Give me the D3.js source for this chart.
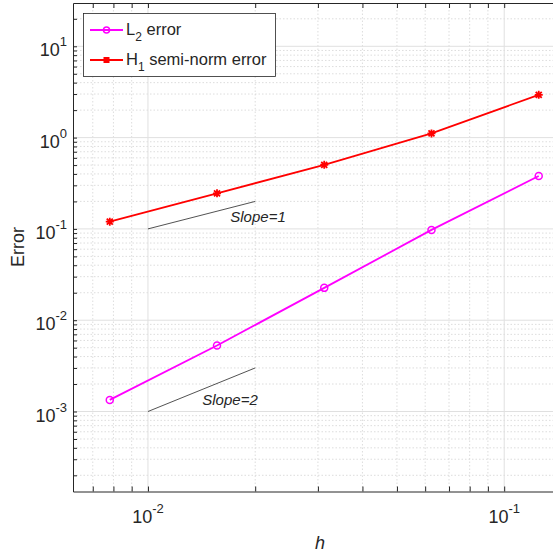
<!DOCTYPE html>
<html>
<head>
<meta charset="utf-8">
<script src="https://d3js.org/d3.v7.min.js"></script>
<style>
  body { margin: 0; background: #fff; }
  text { font-family: "Liberation Sans", Arial, sans-serif; fill: #262626; }
</style>
</head>
<body>
<svg id="vis" width="553" height="553"></svg>
<script>
// data
var hValues = [1/128, 1/64, 1/32, 1/16, 1/8];
var l2Error = [0.00134, 0.00528, 0.0226, 0.0975, 0.379];
var h1Error = [0.120, 0.245, 0.504, 1.11, 2.94];
var slope1X = [0.01, 0.02];
var slope1Y = [0.1, 0.2];
var slope2X = [0.01, 0.02];
var slope2Y = [0.001, 0.003];
var xMajor = [0.01, 0.1];
var yMajor = [1e-3, 1e-2, 1e-1, 1e0, 1e1];
var xDomain = [0.00616, 0.156];
var yDomain = [1.33e-4, 29.8];

var plotL = 73, plotR = 573, plotT = 3, plotB = 491.5;
var axisCol = "#262626";

var svg = d3.select("#vis");
var x = d3.scaleLog().domain(xDomain).range([plotL, plotR]);
var y = d3.scaleLog().domain(yDomain).range([plotB, plotT]);

// minor tick values (2..9 in each decade)
function minors(dom) {
  var out = [];
  for (var e = -5; e <= 2; e++) {
    for (var k = 2; k <= 9; k++) {
      var v = k * Math.pow(10, e);
      if (v > dom[0] && v < dom[1]) out.push(v);
    }
  }
  return out;
}
var xMinor = minors(xDomain);
var yMinor = minors(yDomain);

var g = svg.append("g");

// grid
var grid = g.append("g");
xMinor.forEach(function(v) {
  grid.append("line").attr("x1", x(v)).attr("x2", x(v)).attr("y1", plotT).attr("y2", plotB)
    .attr("stroke", "#d4d4d4").attr("stroke-width", 0.8).attr("stroke-dasharray", "1.5,2");
});
yMinor.forEach(function(v) {
  grid.append("line").attr("x1", plotL).attr("x2", plotR).attr("y1", y(v)).attr("y2", y(v))
    .attr("stroke", "#d4d4d4").attr("stroke-width", 0.8).attr("stroke-dasharray", "1.5,2");
});
xMajor.forEach(function(v) {
  grid.append("line").attr("x1", x(v)).attr("x2", x(v)).attr("y1", plotT).attr("y2", plotB)
    .attr("stroke", "#e0e0e0").attr("stroke-width", 1);
});
yMajor.forEach(function(v) {
  grid.append("line").attr("x1", plotL).attr("x2", plotR).attr("y1", y(v)).attr("y2", y(v))
    .attr("stroke", "#e0e0e0").attr("stroke-width", 1);
});

// axes with inward ticks
function styleAxis(sel) {
  sel.select(".domain").attr("stroke", axisCol);
  sel.selectAll(".tick line").attr("stroke", axisCol);
  sel.selectAll(".tick text").remove();
}
var xb = g.append("g").attr("transform", "translate(0," + plotB + ")")
  .call(d3.axisTop(x).tickValues(xMajor.concat(xMinor)).tickSize(5).tickSizeOuter(0));
styleAxis(xb);
var xt = g.append("g").attr("transform", "translate(0," + plotT + ")")
  .call(d3.axisBottom(x).tickValues(xMajor.concat(xMinor)).tickSize(5).tickSizeOuter(0));
styleAxis(xt);
var yl = g.append("g").attr("transform", "translate(" + plotL + ",0)")
  .call(d3.axisRight(y).tickValues(yMajor.concat(yMinor)).tickSize(4).tickSizeOuter(0));
styleAxis(yl);

// tick labels 10^n
function expo(v) { return Math.round(Math.log10(v)); }
xMajor.forEach(function(v) {
  var t = g.append("text").attr("x", x(v)).attr("y", plotB + 31.5).attr("text-anchor", "middle");
  t.append("tspan").attr("font-size", 18).text("10");
  t.append("tspan").attr("font-size", 13).attr("dy", -10).text(expo(v));
});
yMajor.forEach(function(v) {
  var t = g.append("text").attr("x", 67).attr("y", y(v) + 10).attr("text-anchor", "end");
  t.append("tspan").attr("font-size", 18).text("10");
  t.append("tspan").attr("font-size", 13).attr("dy", -10).text(expo(v));
});

// axis titles
g.append("text").attr("x", 320).attr("y", 549).attr("text-anchor", "middle")
  .attr("font-size", 18).attr("font-style", "italic").text("h");
g.append("text").attr("transform", "translate(24,247) rotate(-90)").attr("text-anchor", "middle")
  .attr("font-size", 18).text("Error");

// slope reference lines
var line = d3.line().x(function(d) { return x(d[0]); }).y(function(d) { return y(d[1]); });
g.append("path").attr("d", line(d3.zip(slope1X, slope1Y))).attr("stroke", "#262626")
  .attr("stroke-width", 0.8).attr("fill", "none");
g.append("path").attr("d", line(d3.zip(slope2X, slope2Y))).attr("stroke", "#262626")
  .attr("stroke-width", 0.8).attr("fill", "none");
g.append("text").attr("x", 258).attr("y", 222).attr("text-anchor", "middle")
  .attr("font-size", 15).attr("font-style", "italic").text("Slope=1");
g.append("text").attr("x", 230).attr("y", 405).attr("text-anchor", "middle")
  .attr("font-size", 15).attr("font-style", "italic").text("Slope=2");

// series
var l2Col = "#ff00ff", h1Col = "#ff0000";
g.append("path").attr("d", line(d3.zip(hValues, l2Error))).attr("stroke", l2Col)
  .attr("stroke-width", 1.8).attr("fill", "none");
g.append("path").attr("d", line(d3.zip(hValues, h1Error))).attr("stroke", h1Col)
  .attr("stroke-width", 1.8).attr("fill", "none");

function circleMark(px, py) {
  g.append("circle").attr("cx", px).attr("cy", py).attr("r", 3.5)
    .attr("fill", "none").attr("stroke", l2Col).attr("stroke-width", 1.5);
}
function starMark(px, py) {
  var s = 4;
  var p = "M" + (px - s) + "," + py + "L" + (px + s) + "," + py +
    "M" + px + "," + (py - s) + "L" + px + "," + (py + s) +
    "M" + (px - s * 0.75) + "," + (py - s * 0.75) + "L" + (px + s * 0.75) + "," + (py + s * 0.75) +
    "M" + (px - s * 0.75) + "," + (py + s * 0.75) + "L" + (px + s * 0.75) + "," + (py - s * 0.75);
  g.append("path").attr("d", p).attr("stroke", h1Col).attr("stroke-width", 1.8);
}
hValues.forEach(function(h, i) {
  circleMark(x(h), y(l2Error[i]));
  starMark(x(h), y(h1Error[i]));
});

// legend
var lg = g.append("g");
lg.append("rect").attr("x", 83.5).attr("y", 13.5).attr("width", 192).attr("height", 63)
  .attr("fill", "#fff").attr("stroke", axisCol).attr("stroke-width", 0.8);
lg.append("line").attr("x1", 90).attr("x2", 123).attr("y1", 30).attr("y2", 30)
  .attr("stroke", l2Col).attr("stroke-width", 1.8);
lg.append("circle").attr("cx", 106.5).attr("cy", 30).attr("r", 3)
  .attr("fill", "none").attr("stroke", l2Col).attr("stroke-width", 1.5);
var t1 = lg.append("text").attr("x", 126).attr("y", 35).attr("font-size", 16.5);
t1.append("tspan").text("L");
t1.append("tspan").attr("font-size", 12).attr("dy", 6).text("2");
t1.append("tspan").attr("dy", -6).text(" error");

lg.append("line").attr("x1", 90).attr("x2", 123).attr("y1", 60).attr("y2", 60)
  .attr("stroke", h1Col).attr("stroke-width", 1.8);
lg.append("rect").attr("x", 103.5).attr("y", 57).attr("width", 6).attr("height", 6).attr("fill", h1Col);
var t2 = lg.append("text").attr("x", 126).attr("y", 65).attr("font-size", 16.5);
t2.append("tspan").text("H");
t2.append("tspan").attr("font-size", 12).attr("dy", 6).text("1");
t2.append("tspan").attr("dy", -6).text(" semi-norm error");
</script>
</body>
</html>
